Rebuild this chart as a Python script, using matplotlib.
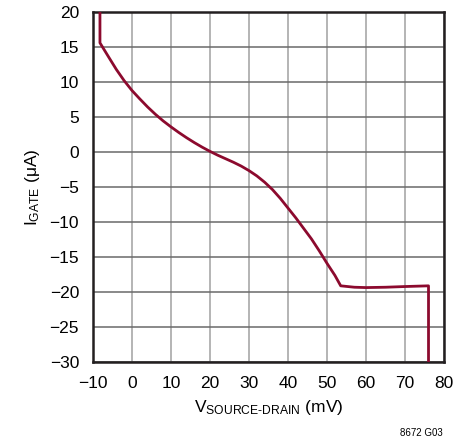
import matplotlib
matplotlib.use('Agg')
import matplotlib.pyplot as plt

# curve
v_sd = [-8.2, -8.2, -6, -4, -2, 0, 2, 4, 6, 8, 10, 12, 14, 16, 18, 20, 22, 24, 26, 28, 30,
        32, 34, 36, 38, 40, 42, 44, 46, 48, 50, 52, 53.5, 57, 60, 65, 70, 76, 76]
i_gate = [20, 15.6, 13.6, 11.8, 10.2, 8.8, 7.6, 6.45, 5.4, 4.45, 3.6, 2.8, 2.05, 1.35, 0.7, 0.1, -0.45, -0.95, -1.45, -2.0, -2.65,
          -3.4, -4.3, -5.35, -6.6, -8.0, -9.4, -10.9, -12.4, -14.1, -15.9, -17.6, -19.1, -19.3, -19.35, -19.3, -19.2, -19.1, -30]

x_ticks = [-10, 0, 10, 20, 30, 40, 50, 60, 70, 80]
y_ticks = [-30, -25, -20, -15, -10, -5, 0, 5, 10, 15, 20]

plt.rcParams['font.family'] = ['Liberation Sans Narrow', 'Liberation Sans', 'DejaVu Sans']
plt.rcParams['mathtext.fontset'] = 'custom'
plt.rcParams['mathtext.rm'] = 'Liberation Sans Narrow'

fig = plt.figure(figsize=(4.67, 4.46), dpi=100)
ax = fig.add_axes([0.199, 0.188, 0.752, 0.785])

ax.plot(v_sd, i_gate, color='#8c0a2e', lw=2.0, solid_joinstyle='round', zorder=3)

ax.set_xlim(-10, 80)
ax.set_ylim(-30, 20)
ax.set_xticks(x_ticks)
ax.set_yticks(y_ticks)
ax.set_xticklabels([str(t).replace('-', '\u2212') for t in x_ticks])
ax.set_yticklabels([str(t).replace('-', '\u2212') for t in y_ticks])
ax.tick_params(length=0, labelsize=12.5, pad=10)
ax.xaxis.grid(True, color='#a0a0a0', lw=1.1)
ax.yaxis.grid(True, color='#6a6a6a', lw=1.1)
for s in ax.spines.values():
    s.set_linewidth(1.8)
    s.set_color('#231f20')

ax.set_xlabel('$\\mathregular{V_{SOURCE\u2010DRAIN}}$ (mV)', fontsize=12.5, labelpad=5)
ax.set_ylabel('$\\mathregular{I_{GATE}}$ (\u03bcA)', fontsize=12.5, labelpad=5)

fig.text(0.948, 0.018, '8672 G03', fontsize=7, ha='right', va='bottom')

fig.savefig('out.png', dpi=100)
